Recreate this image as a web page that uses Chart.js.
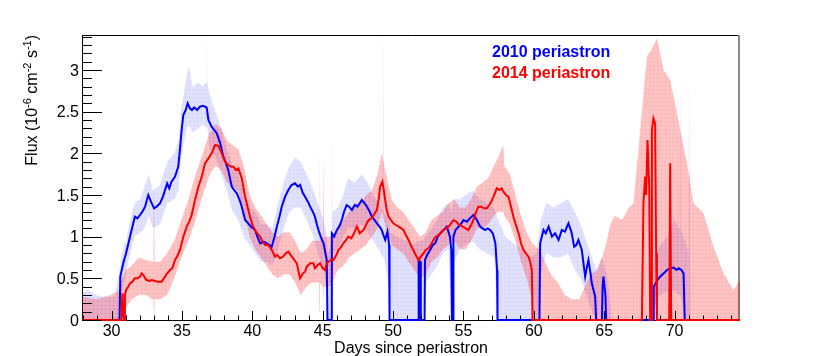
<!DOCTYPE html>
<html>
<head>
<meta charset="utf-8">
<title>Flux vs days since periastron</title>
<script src="https://cdn.jsdelivr.net/npm/chart.js@4.4.1/dist/chart.umd.min.js"></script>
<style>
  html, body { margin: 0; padding: 0; background: #fff; }
  #wrap { width: 822px; height: 356px; }
</style>
</head>
<body>
<div id="wrap"><canvas id="fluxChart" width="822" height="356"></canvas></div>
<script>
// values
const seriesNames = ['2010 periastron', '2014 periastron'];
const xTickLabels = ['30', '35', '40', '45', '50', '55', '60', '65', '70'];
const yTickLabels = ['0', '0.5', '1', '1.5', '2', '2.5', '3'];

// 2010 light curve
const days2010 = [27.9, 30.57, 30.62, 30.83, 31.03, 31.31, 31.48, 31.66, 31.84, 32.02, 32.19, 32.38, 32.61, 32.8, 33.02, 33.2, 33.44, 33.65, 33.95, 34.1, 34.26, 34.51, 34.74, 34.86, 34.98, 35.1, 35.27, 35.41, 35.57, 35.71, 35.87, 36.08, 36.28, 36.48, 36.63, 36.76, 36.88, 37.11, 37.29, 37.48, 37.72, 37.94, 38.09, 38.29, 38.54, 38.7, 38.9, 39.1, 39.25, 39.49, 39.71, 39.91, 40.19, 40.36, 40.56, 40.82, 41.02, 41.22, 41.38, 41.58, 41.74, 41.93, 42.09, 42.33, 42.56, 42.79, 43.04, 43.24, 43.39, 43.6, 43.75, 43.95, 44.11, 44.3, 44.45, 44.6, 44.7, 44.86, 45.06, 45.29, 45.34, 45.62, 45.65, 45.82, 46.01, 46.17, 46.36, 46.52, 46.71, 46.87, 47.08, 47.28, 47.48, 47.78, 47.98, 48.15, 48.34, 48.49, 48.69, 48.85, 49.04, 49.19, 49.44, 49.6, 49.72, 49.75, 51.8, 51.82, 51.92, 51.97, 52.24, 52.27, 52.42, 52.63, 52.83, 52.99, 53.18, 53.34, 53.59, 53.82, 54.04, 54.14, 54.18, 54.26, 54.29, 54.44, 54.65, 54.85, 55.01, 55.25, 55.45, 55.71, 55.96, 56.19, 56.36, 56.54, 56.71, 56.9, 57.09, 57.27, 57.39, 57.42, 60.4, 60.45, 60.69, 60.85, 61.05, 61.29, 61.51, 61.76, 61.99, 62.21, 62.46, 62.67, 62.87, 63.02, 63.17, 63.41, 63.65, 63.78, 63.88, 64.03, 64.12, 64.36, 64.43, 64.84, 64.89, 64.95, 65.09, 65.14, 68.47, 68.52, 68.72, 68.97, 69.23, 69.46, 69.68, 69.94, 70.14, 70.29, 70.49, 70.64, 70.72, 74.65];
const flux2010 = [0, 0, 0.52, 0.68, 0.8, 1.0, 1.12, 1.24, 1.22, 1.26, 1.3, 1.36, 1.5, 1.42, 1.34, 1.36, 1.4, 1.48, 1.64, 1.58, 1.66, 1.72, 1.84, 2.05, 2.28, 2.46, 2.52, 2.6, 2.54, 2.52, 2.55, 2.52, 2.56, 2.57, 2.56, 2.55, 2.4, 2.32, 2.28, 2.24, 2.12, 1.96, 1.9, 1.8, 1.6, 1.56, 1.52, 1.44, 1.36, 1.2, 1.16, 1.12, 1.08, 1.0, 0.92, 0.94, 0.92, 0.9, 0.88, 1.0, 1.12, 1.24, 1.36, 1.48, 1.56, 1.62, 1.64, 1.6, 1.62, 1.52, 1.48, 1.42, 1.36, 1.3, 1.24, 1.14, 1.08, 1.0, 0.92, 0.72, 0, 0, 1.04, 1.0, 1.08, 1.12, 1.2, 1.3, 1.38, 1.36, 1.32, 1.38, 1.36, 1.44, 1.4, 1.36, 1.3, 1.24, 1.2, 1.16, 1.12, 1.08, 0.96, 1.06, 0.9, 0, 0, 0.72, 0.7, 0, 0, 0.72, 0.78, 0.84, 0.9, 0.92, 1.0, 1.04, 1.08, 1.12, 1.0, 0.84, 0, 0, 1.0, 1.08, 1.12, 1.16, 1.2, 1.18, 1.22, 1.26, 1.2, 1.12, 1.1, 1.08, 1.1, 1.08, 1.04, 0.92, 0.6, 0, 0, 0.92, 1.08, 1.04, 1.12, 1.0, 1.04, 0.96, 1.08, 1.06, 1.16, 1.06, 0.88, 0.9, 0.96, 0.84, 0.52, 0.64, 0.72, 0.56, 0.44, 0.28, 0, 0, 0.4, 0.52, 0.3, 0, 0, 0.4, 0.46, 0.52, 0.56, 0.6, 0.62, 0.63, 0.6, 0.62, 0.6, 0.56, 0, 0];

// 2010 error band
const bandDays2010 = [27.9, 28.3, 28.91, 29.52, 30.22, 30.52, 30.73, 31.03, 31.33, 31.63, 32.04, 32.34, 32.64, 32.95, 33.45, 33.95, 34.46, 34.76, 34.96, 35.27, 35.47, 35.77, 36.18, 36.48, 36.72, 36.76, 36.8, 36.98, 37.39, 37.79, 38.2, 38.6, 39.0, 39.4, 39.81, 40.21, 40.62, 41.02, 41.43, 41.83, 42.23, 42.64, 43.04, 43.44, 43.85, 44.25, 44.65, 45.06, 45.31, 45.36, 45.62, 45.72, 46.07, 46.47, 46.78, 47.28, 47.78, 48.19, 48.59, 48.99, 49.27, 49.31, 49.35, 49.7, 49.8, 50.3, 50.91, 51.41, 51.82, 52.12, 52.32, 52.73, 53.13, 53.54, 53.94, 54.14, 54.34, 54.75, 55.15, 55.65, 56.16, 56.66, 57.17, 57.47, 57.98, 58.69, 59.19, 59.69, 60.2, 60.5, 60.9, 61.41, 61.91, 62.42, 62.92, 63.32, 63.73, 64.13, 64.43, 64.84, 65.25, 65.55, 68.47, 68.57, 68.97, 69.48, 69.99, 70.29, 70.36, 70.4, 70.44, 70.75, 70.99, 71.04, 71.09, 71.15, 74.65];
const bandLow2010 = [0, 0, 0, 0, 0, 0, 0.3, 0.55, 0.8, 1.0, 1.05, 1.1, 1.25, 1.1, 1.15, 1.4, 1.45, 1.55, 1.95, 2.25, 2.35, 2.25, 2.3, 2.35, 2.3, 2.3, 2.3, 2.05, 1.95, 1.75, 1.55, 1.3, 1.2, 1.0, 0.9, 0.8, 0.7, 0.7, 0.65, 0.85, 1.1, 1.3, 1.35, 1.35, 1.2, 1.05, 0.8, 0.6, 0.3, 0, 0, 0.8, 0.85, 1.0, 1.1, 1.1, 1.15, 1.05, 0.95, 0.85, 0.75, 0.75, 0.75, 0.4, 0, 0, 0, 0, 0, 0, 0.45, 0.55, 0.65, 0.8, 0.85, 0, 0.7, 0.85, 0.9, 0.95, 0.85, 0.8, 0.75, 0, 0, 0, 0, 0, 0, 0.55, 0.8, 0.75, 0.75, 0.8, 0.6, 0.5, 0.3, 0.1, 0, 0, 0, 0, 0, 0.15, 0.3, 0.35, 0.35, 0.3, 0.3, 0.3, 0.3, 0, 0, 0, 0, 0, 0];
const bandHigh2010 = [0.32, 0.36, 0.3, 0.27, 0.28, 0.55, 0.8, 0.95, 1.2, 1.4, 1.45, 1.6, 1.75, 1.55, 1.62, 1.9, 2.0, 2.15, 2.55, 2.85, 3.05, 2.8, 2.85, 2.8, 2.85, 3.6, 2.85, 2.7, 2.5, 2.3, 2.05, 1.85, 1.75, 1.55, 1.35, 1.3, 1.15, 1.15, 1.1, 1.4, 1.65, 1.85, 1.95, 1.9, 1.75, 1.6, 1.4, 1.2, 1.0, 0.8, 0.9, 1.3, 1.35, 1.5, 1.7, 1.65, 1.75, 1.65, 1.5, 1.4, 1.3, 3.6, 1.3, 1.2, 1.05, 1.0, 0.95, 0.9, 0.95, 0.95, 1.0, 1.1, 1.2, 1.35, 1.4, 1.3, 1.45, 1.45, 1.5, 1.55, 1.45, 1.4, 1.35, 1.2, 1.0, 0.9, 0.85, 0.75, 0.8, 1.2, 1.4, 1.35, 1.4, 1.45, 1.3, 1.15, 0.95, 0.75, 0.6, 0.75, 0.5, 0, 0, 0.75, 0.9, 1.0, 1.2, 1.1, 1.1, 3.05, 1.1, 0.95, 0.8, 2.95, 0.8, 0, 0];

// 2014 light curve
const days2014 = [27.9, 30.68, 30.72, 30.78, 30.85, 30.91, 30.95, 31.03, 31.18, 31.31, 31.48, 31.66, 31.84, 32.02, 32.14, 32.26, 32.39, 32.49, 32.7, 32.85, 33.05, 33.25, 33.56, 33.8, 33.95, 34.16, 34.31, 34.51, 34.71, 34.86, 35.1, 35.34, 35.52, 35.69, 35.93, 36.17, 36.41, 36.64, 36.88, 37.11, 37.36, 37.59, 37.83, 38.06, 38.29, 38.5, 38.66, 38.85, 39.01, 39.25, 39.49, 39.66, 39.84, 40.01, 40.19, 40.36, 40.56, 40.72, 40.91, 41.12, 41.32, 41.62, 41.78, 41.97, 42.18, 42.38, 42.56, 42.81, 42.99, 43.16, 43.39, 43.6, 43.75, 43.87, 44.11, 44.34, 44.45, 44.65, 44.81, 45.01, 45.17, 45.29, 45.41, 45.56, 45.77, 45.97, 46.12, 46.32, 46.47, 46.67, 46.82, 47.03, 47.23, 47.43, 47.63, 47.9, 48.08, 48.26, 48.49, 48.69, 48.85, 48.99, 49.08, 49.24, 49.34, 49.44, 49.55, 49.68, 49.85, 50.02, 50.2, 50.41, 50.74, 50.91, 51.1, 51.26, 51.44, 51.61, 51.81, 51.97, 52.16, 52.32, 52.51, 52.68, 52.87, 53.03, 53.23, 53.38, 53.57, 53.79, 54.04, 54.29, 54.49, 54.7, 54.95, 55.15, 55.35, 55.55, 55.71, 55.86, 56.06, 56.26, 56.46, 56.66, 56.92, 57.14, 57.37, 57.57, 57.72, 57.84, 58.02, 58.2, 58.38, 58.55, 58.73, 58.92, 59.09, 59.27, 59.44, 59.62, 59.74, 59.86, 59.91, 67.68, 67.79, 67.91, 67.98, 68.08, 68.2, 68.27, 68.34, 68.39, 68.5, 68.62, 68.69, 68.75, 69.62, 69.69, 69.76, 74.65];
const flux2014 = [0, 0, 0.16, 0.32, 0.05, 0, 0.3, 0.36, 0.4, 0.44, 0.46, 0.5, 0.5, 0.52, 0.56, 0.54, 0.5, 0.48, 0.47, 0.48, 0.47, 0.46, 0.46, 0.52, 0.56, 0.6, 0.62, 0.72, 0.78, 0.84, 1.0, 1.12, 1.18, 1.26, 1.44, 1.6, 1.72, 1.88, 1.94, 2.0, 2.1, 2.09, 2.0, 1.9, 1.86, 1.84, 1.84, 1.8, 1.82, 1.7, 1.48, 1.36, 1.24, 1.14, 1.08, 1.04, 1.0, 0.94, 0.9, 0.9, 0.86, 0.76, 0.78, 0.74, 0.76, 0.8, 0.82, 0.76, 0.72, 0.68, 0.5, 0.56, 0.58, 0.64, 0.68, 0.68, 0.62, 0.66, 0.68, 0.62, 0.6, 0.68, 0.7, 0.72, 0.72, 0.78, 0.84, 0.88, 0.92, 0.96, 1.0, 0.98, 1.04, 1.12, 1.04, 1.08, 1.14, 1.2, 1.22, 1.28, 1.32, 1.46, 1.6, 1.66, 1.56, 1.44, 1.32, 1.24, 1.2, 1.16, 1.14, 1.12, 1.08, 1.02, 0.96, 0.9, 0.84, 0.78, 0.72, 0.76, 0.8, 0.84, 0.86, 0.9, 0.96, 1.0, 1.02, 1.04, 1.08, 1.1, 1.14, 1.2, 1.18, 1.14, 1.12, 1.1, 1.08, 1.14, 1.2, 1.28, 1.36, 1.36, 1.34, 1.34, 1.4, 1.48, 1.58, 1.56, 1.58, 1.54, 1.5, 1.48, 1.36, 1.24, 1.14, 1.04, 0.92, 0.84, 0.8, 0.76, 0.7, 0.6, 0, 0, 1.4, 1.72, 1.5, 2.16, 1.6, 0, 0, 2.28, 2.42, 2.36, 0.8, 0, 0, 1.88, 0, 0];

// 2014 error band
const bandDays2014 = [27.9, 28.91, 29.92, 30.52, 30.73, 31.03, 31.43, 31.94, 32.44, 32.9, 32.98, 33.02, 33.06, 33.45, 33.95, 34.46, 34.96, 35.47, 35.97, 36.48, 36.98, 37.39, 37.79, 38.2, 38.6, 39.0, 39.4, 39.81, 40.21, 40.62, 41.02, 41.43, 41.83, 42.23, 42.64, 43.04, 43.44, 43.85, 44.25, 44.65, 44.75, 44.79, 44.83, 45.01, 45.05, 45.09, 45.45, 45.61, 45.65, 45.69, 46.07, 46.47, 46.88, 47.28, 47.68, 48.09, 48.49, 48.89, 49.2, 49.5, 49.9, 50.3, 50.71, 51.11, 51.51, 51.92, 52.32, 52.73, 53.13, 53.54, 53.94, 54.34, 54.75, 55.15, 55.55, 55.96, 56.36, 56.76, 57.17, 57.47, 57.84, 57.9, 58.3, 58.69, 59.09, 59.49, 59.8, 60.0, 60.4, 60.8, 61.2, 61.71, 62.21, 62.71, 63.22, 63.63, 64.03, 64.53, 65.04, 65.45, 65.75, 66.26, 66.76, 67.08, 67.56, 68.03, 68.38, 68.75, 69.22, 69.69, 70.17, 70.88, 71.35, 72.06, 72.77, 73.48, 74.19, 74.65];
const bandLow2014 = [0, 0, 0, 0, 0, 0.15, 0.25, 0.3, 0.3, 0.25, 0.25, 0, 0.25, 0.25, 0.3, 0.5, 0.75, 0.95, 1.2, 1.5, 1.75, 1.85, 1.8, 1.65, 1.6, 1.55, 1.3, 1.0, 0.85, 0.75, 0.65, 0.55, 0.5, 0.55, 0.55, 0.45, 0.3, 0.4, 0.45, 0.45, 0.45, 0.1, 0.45, 0.4, 0.2, 0.4, 0.4, 0.45, 0.1, 0.45, 0.6, 0.65, 0.75, 0.8, 0.85, 0.9, 1.0, 1.1, 1.3, 1.1, 0.9, 0.85, 0.8, 0.7, 0.6, 0.5, 0.55, 0.7, 0.75, 0.85, 0.9, 0.95, 0.85, 0.85, 0.95, 1.1, 1.1, 1.15, 1.25, 1.3, 1.3, 1.25, 1.15, 0.95, 0.7, 0.5, 0.3, 0, 0, 0, 0, 0, 0, 0, 0, 0, 0, 0, 0, 0, 0, 0, 0, 0, 0, 0, 0, 0, 0, 0, 0, 0, 0, 0, 0, 0, 0, 0];
const bandHigh2014 = [0.28, 0.25, 0.3, 0.35, 0.5, 0.6, 0.65, 0.75, 0.72, 0.7, 0.7, 1.7, 0.7, 0.7, 0.8, 0.95, 1.2, 1.45, 1.75, 2.0, 2.25, 2.35, 2.3, 2.15, 2.1, 2.05, 1.85, 1.5, 1.35, 1.25, 1.15, 1.05, 1.0, 1.05, 1.05, 0.95, 0.8, 0.85, 0.95, 0.95, 0.95, 2.2, 1.0, 1.0, 2.0, 1.0, 1.0, 1.0, 2.35, 1.0, 1.1, 1.2, 1.3, 1.4, 1.4, 1.5, 1.55, 1.75, 2.0, 1.75, 1.45, 1.35, 1.3, 1.2, 1.1, 1.0, 1.05, 1.2, 1.25, 1.3, 1.4, 1.45, 1.35, 1.35, 1.45, 1.6, 1.65, 1.7, 1.85, 1.95, 2.1, 1.85, 1.75, 1.5, 1.25, 1.05, 0.95, 0.9, 0.85, 0.7, 0.55, 0.45, 0.3, 0.25, 0.25, 0.4, 0.55, 0.6, 0.85, 1.15, 1.25, 1.2, 1.35, 1.4, 2.28, 3.16, 3.25, 3.38, 3.0, 2.88, 2.48, 1.88, 1.4, 1.28, 0.88, 0.56, 0.36, 0.48];

const FONT = '"Liberation Sans", Arial, Helvetica, sans-serif';

function toPoints(xs, ys) {
  return xs.map((x, i) => ({ x: x, y: ys[i] }));
}

// ROOT-like hatched fill: tinted base with a denser dot every 4 px
function dotPattern(rgb, baseAlpha, dotAlpha) {
  const c = document.createElement('canvas');
  c.width = 4;
  c.height = 4;
  const g = c.getContext('2d');
  g.fillStyle = 'rgba(' + rgb + ',' + baseAlpha + ')';
  g.fillRect(0, 0, 4, 4);
  g.clearRect(1, 1, 1, 1);
  g.fillStyle = 'rgba(' + rgb + ',' + dotAlpha + ')';
  g.fillRect(1, 1, 1, 1);
  return g.createPattern(c, 'repeat');
}

const bluePattern = dotPattern('0,0,255', 0.12, 0.24);
const redPattern = dotPattern('255,0,0', 0.24, 0.4);

const lineClip = { left: 0, top: 0, right: 0, bottom: 3 };

const rootFrame = {
  id: 'rootFrame',
  beforeDatasetsDraw(chart) {
    const { ctx, chartArea: a } = chart;
    ctx.save();
    ctx.strokeStyle = '#000';
    ctx.lineWidth = 1;
    ctx.beginPath();
    ctx.moveTo(a.left + 0.5, a.top + 0.5);
    ctx.lineTo(a.right, a.top + 0.5);
    ctx.moveTo(a.left + 0.5, a.top);
    ctx.lineTo(a.left + 0.5, a.bottom + 0.5);
    ctx.lineTo(a.right, a.bottom + 0.5);
    ctx.stroke();
    ctx.strokeStyle = '#8a8a8a';
    ctx.lineWidth = 2;
    ctx.beginPath();
    ctx.moveTo(a.right - 1, a.top);
    ctx.lineTo(a.right - 1, a.bottom + 1);
    ctx.stroke();
    ctx.restore();
  },
  afterDatasetsDraw(chart) {
    const { ctx, chartArea: a, scales } = chart;
    const xs = scales.x, ys = scales.y;
    ctx.save();
    ctx.strokeStyle = '#000';
    ctx.lineWidth = 1;
    ctx.beginPath();
    // ticks point inward like ROOT
    for (let d = Math.ceil(xs.min); d <= xs.max; d++) {
      const px = Math.round(xs.getPixelForValue(d)) + 0.5;
      const len = d % 5 === 0 ? 9 : 4.5;
      ctx.moveTo(px, a.bottom);
      ctx.lineTo(px, a.bottom - len);
    }
    for (let i = 0; i / 10 <= ys.max; i++) {
      const py = Math.round(ys.getPixelForValue(i / 10)) + 0.5;
      const len = i % 5 === 0 ? 20 : 10;
      ctx.moveTo(a.left, py);
      ctx.lineTo(a.left + len, py);
    }
    ctx.stroke();

    ctx.fillStyle = '#000';
    ctx.font = '16px ' + FONT;
    ctx.textBaseline = 'alphabetic';
    ctx.textAlign = 'center';
    xTickLabels.forEach(t => {
      ctx.fillText(t, xs.getPixelForValue(Number(t)), a.bottom + 16);
    });
    ctx.textAlign = 'right';
    yTickLabels.forEach(t => {
      ctx.fillText(t, a.left - 3, ys.getPixelForValue(Number(t)) + 5.5);
    });

    // x title
    ctx.textAlign = 'center';
    ctx.fillText('Days since periastron', (a.left + a.right) / 2, a.bottom + 33);

    // y title with superscripts, right-aligned at the top of the axis
    const parts = [
      ['Flux (10', false], ['-6', true], [' cm', false], ['-2', true],
      [' s', false], ['-1', true], [')', false]
    ];
    const big = '16px ' + FONT, small = '11px ' + FONT;
    let total = 0;
    parts.forEach(p => { ctx.font = p[1] ? small : big; total += ctx.measureText(p[0]).width; });
    ctx.translate(37, a.top);
    ctx.rotate(-Math.PI / 2);
    ctx.textAlign = 'left';
    let cx = -total;
    parts.forEach(p => {
      ctx.font = p[1] ? small : big;
      ctx.fillText(p[0], cx, p[1] ? -6.5 : 0);
      cx += ctx.measureText(p[0]).width;
    });
    ctx.restore();

    // legend text
    ctx.save();
    ctx.font = 'bold 16px ' + FONT;
    ctx.textAlign = 'left';
    ctx.fillStyle = '#0000ff';
    ctx.fillText(seriesNames[0], 492, 57);
    ctx.fillStyle = '#ff0000';
    ctx.fillText(seriesNames[1], 492, 78);
    ctx.restore();
  }
};

new Chart(document.getElementById('fluxChart'), {
  type: 'line',
  data: {
    datasets: [
      { label: 'band2010 low', data: toPoints(bandDays2010, bandLow2010), borderWidth: 0, pointRadius: 0, fill: false, order: 3 },
      { label: 'band2010 high', data: toPoints(bandDays2010, bandHigh2010), borderWidth: 0, pointRadius: 0, fill: 0, backgroundColor: bluePattern, order: 3 },
      { label: 'band2014 low', data: toPoints(bandDays2014, bandLow2014), borderWidth: 0, pointRadius: 0, fill: false, order: 2 },
      { label: 'band2014 high', data: toPoints(bandDays2014, bandHigh2014), borderWidth: 0, pointRadius: 0, fill: 2, backgroundColor: redPattern, order: 2 },
      { label: seriesNames[0], data: toPoints(days2010, flux2010), borderColor: '#0000ff', borderWidth: 2, pointRadius: 0, fill: false, order: 1, clip: lineClip },
      { label: seriesNames[1], data: toPoints(days2014, flux2014), borderColor: '#ff0000', borderWidth: 2, pointRadius: 0, fill: false, order: 0, clip: lineClip }
    ]
  },
  options: {
    responsive: false,
    animation: false,
    events: [],
    layout: { padding: { left: 82, right: 82, top: 35, bottom: 36 } },
    elements: { line: { tension: 0, borderJoinStyle: 'miter' } },
    scales: {
      x: { type: 'linear', min: 27.9, max: 74.65, display: false },
      y: { type: 'linear', min: 0, max: 3.42, display: false }
    },
    plugins: {
      legend: { display: false },
      tooltip: { enabled: false }
    }
  },
  plugins: [rootFrame]
});
</script>
</body>
</html>
